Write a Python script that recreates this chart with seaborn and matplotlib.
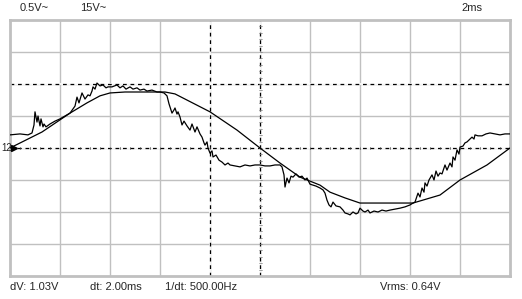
import numpy as np
import pandas as pd
import matplotlib
matplotlib.use("Agg")
import matplotlib.pyplot as plt
import seaborn as sns

# ---- data (time in ms, voltage in divisions) ----
ref_t = [0, 1.28, 2.4, 3.08, 3.6, 4.0, 4.6, 6.2, 6.6, 8.0,
         9.08, 10.0, 10.8, 11.6, 12.4, 12.8, 13.4, 14.0, 16.12, 17.2,
         18.0, 19.08, 20.0]
ref_v = [0, 0.5, 1.09, 1.41, 1.63, 1.72, 1.75, 1.75, 1.69, 1.13,
         0.56, 0, -0.47, -0.91, -1.16, -1.38, -1.56, -1.72, -1.72, -1.47,
         -1.0, -0.53, 0]

sig_t = [0, 0.4, 0.72, 0.88, 0.96, 1.0, 1.08, 1.12, 1.2, 1.24,
         1.32, 1.36, 1.44, 1.6, 1.8, 2.0, 2.2, 2.4, 2.52, 2.6,
         2.68, 2.76, 2.88, 3.0, 3.12, 3.2, 3.28, 3.32, 3.4, 3.48,
         3.6, 3.72, 3.84, 3.92, 4.08, 4.28, 4.4, 4.52, 4.64, 4.8,
         4.92, 5.08, 5.2, 5.36, 5.48, 5.68, 5.88, 6.0, 6.16, 6.28,
         6.36, 6.48, 6.56, 6.6, 6.68, 6.72, 6.8, 6.88, 6.96, 7.08,
         7.2, 7.28, 7.4, 7.48, 7.6, 7.68, 7.76, 7.8, 7.88, 7.92,
         8.0, 8.08, 8.12, 8.24, 8.36, 8.48, 8.6, 8.72, 8.8, 9.0,
         9.2, 9.4, 9.6, 9.8, 10.0, 10.2, 10.4, 10.6, 10.8, 10.88,
         10.96, 11.0, 11.08, 11.16, 11.24, 11.32, 11.44, 11.56, 11.68, 11.8,
         11.88, 12.0, 12.12, 12.24, 12.4, 12.52, 12.6, 12.68, 12.76, 12.84,
         12.92, 13.04, 13.2, 13.32, 13.4, 13.52, 13.6, 13.72, 13.84, 13.92,
         14.0, 14.12, 14.2, 14.32, 14.4, 14.56, 14.72, 14.88, 15.04, 15.2,
         15.4, 15.6, 15.8, 16.0, 16.12, 16.2, 16.28, 16.32, 16.4, 16.48,
         16.56, 16.6, 16.68, 16.76, 16.88, 16.96, 17.04, 17.12, 17.2, 17.28,
         17.4, 17.48, 17.6, 17.68, 17.72, 17.8, 17.88, 17.96, 18.0, 18.12,
         18.2, 18.28, 18.36, 18.48, 18.56, 18.6, 18.72, 18.88, 19.04, 19.2,
         19.4, 19.6, 19.8, 20.0]
sig_v = [0.41, 0.44, 0.41, 0.47, 0.72, 1.13, 0.81, 1.0, 0.69, 0.91,
         0.66, 0.75, 0.66, 0.75, 0.84, 0.91, 1.0, 1.09, 1.22, 1.31,
         1.59, 1.41, 1.72, 1.53, 1.66, 1.63, 1.78, 1.91, 1.84, 2.03,
         1.94, 1.97, 1.88, 1.91, 1.91, 1.97, 1.88, 1.94, 1.84, 1.91,
         1.84, 1.88, 1.81, 1.84, 1.78, 1.81, 1.75, 1.75, 1.72, 1.63,
         1.38, 1.09, 1.19, 1.25, 1.06, 1.13, 0.97, 0.72, 0.84, 0.69,
         0.56, 0.75, 0.5, 0.66, 0.44, 0.34, 0.16, 0.09, 0.19, 0.0,
         -0.16, -0.09, -0.28, -0.22, -0.38, -0.44, -0.53, -0.47, -0.53, -0.56,
         -0.59, -0.53, -0.56, -0.53, -0.53, -0.56, -0.56, -0.53, -0.53, -0.59,
         -0.84, -1.22, -0.94, -1.09, -0.88, -0.91, -0.81, -0.91, -0.88, -1.0,
         -0.94, -1.13, -1.16, -1.19, -1.25, -1.31, -1.41, -1.63, -1.78, -1.84,
         -1.69, -1.81, -1.84, -1.94, -2.03, -2.06, -2.09, -2.0, -2.06, -2.03,
         -1.88, -1.97, -2.0, -1.94, -2.03, -1.97, -2.0, -1.94, -1.97, -1.94,
         -1.91, -1.88, -1.84, -1.78, -1.72, -1.69, -1.5, -1.41, -1.53, -1.25,
         -1.38, -1.09, -1.19, -1.0, -0.84, -1.0, -0.72, -0.88, -0.78, -0.81,
         -0.53, -0.69, -0.47, -0.59, -0.28, -0.38, -0.06, -0.19, 0.03, 0.06,
         0.16, 0.19, 0.25, 0.34, 0.28, 0.41, 0.38, 0.38, 0.44, 0.47,
         0.44, 0.41, 0.44, 0.44]
assert len(sig_t) == len(sig_v), (len(sig_t), len(sig_v))

cursor_t = [8.0]      # ms
cursor_v = [2.0]      # div
top_labels = ["0.5V~", "15V~"]
timebase_label = "2ms"
bottom_labels = ["dV: 1.03V", "dt: 2.00ms", "1/dt: 500.00Hz", "Vrms: 0.64V"]
channel_label = "12"

# ---- figure ----
sns.set_theme(style="white")
plt.rcParams['font.family'] = ['Liberation Sans', 'DejaVu Sans']
W, H = 522, 299
fig = plt.figure(figsize=(W / 100, H / 100), dpi=100, facecolor="white")
x0, x1, y0, y1 = 10, 510, 20, 276
ax = fig.add_axes([x0 / W, 1 - y1 / H, (x1 - x0) / W, (y1 - y0) / H])
ax.set_facecolor("white")
ax.set_xlim(0, 20)
ax.set_ylim(-4, 4)

grey = "#c0c0c0"
for xv in np.arange(2, 20, 2):
    ax.axvline(xv, color=grey, lw=1.0, zorder=0)
for yv in np.arange(-3, 4, 1):
    ax.axhline(yv, color=grey, lw=1.0, zorder=0)

# centre axes and cursors (dashed)
for xv in [10.0] + cursor_t:
    ax.axvline(xv, color="white", lw=1.2, zorder=1)
    ax.axvline(xv, color="black", lw=0.9, ls=(0, (3, 3)), zorder=2)
for yv in [0.0] + cursor_v:
    ax.axhline(yv, color="white", lw=1.2, zorder=1)
    ax.axhline(yv, color="black", lw=0.9, ls=(0, (3, 3)), zorder=2)
# small ticks on centre lines
for tx in np.arange(0.4, 20, 0.4):
    ax.plot([tx, tx], [-0.045, 0.045], color="#404040", lw=0.5, zorder=2)
for ty in np.arange(-4, 4, 0.2):
    ax.plot([9.94, 10.06], [ty, ty], color="#808080", lw=0.5, zorder=2)

ref_df = pd.DataFrame({"t": ref_t, "v": ref_v})
sig_df = pd.DataFrame({"t": sig_t, "v": sig_v})
sns.lineplot(data=ref_df, x="t", y="v", ax=ax, color="black", lw=0.9,
             estimator=None, sort=False, zorder=3)
sns.lineplot(data=sig_df, x="t", y="v", ax=ax, color="black", lw=0.9,
             estimator=None, sort=False, zorder=3)

ax.set_xlabel("")
ax.set_ylabel("")
ax.set_xticks([])
ax.set_yticks([])
for s in ax.spines.values():
    s.set_color(grey)
    s.set_linewidth(2.0)
    s.set_visible(True)

# texts
fs = 8
fig.text(20 / W, 1 - 8 / H, top_labels[0], fontsize=fs, va="center", ha="left")
fig.text(80 / W, 1 - 8 / H, top_labels[1], fontsize=fs, va="center", ha="left")
fig.text(461 / W, 1 - 8 / H, timebase_label, fontsize=fs, va="center", ha="left")
for lbl, px in zip(bottom_labels, [10, 90, 165, 380]):
    fig.text(px / W, 1 - 287 / H, lbl, fontsize=fs, va="center", ha="left")
fig.text(1 / W, 1 - 148 / H, channel_label, fontsize=fs - 1, va="center", ha="left")
ax.plot([0.15], [0], marker=">", color="black", ms=4, clip_on=False, zorder=4)

fig.savefig("out.png", dpi=100, facecolor="white")
